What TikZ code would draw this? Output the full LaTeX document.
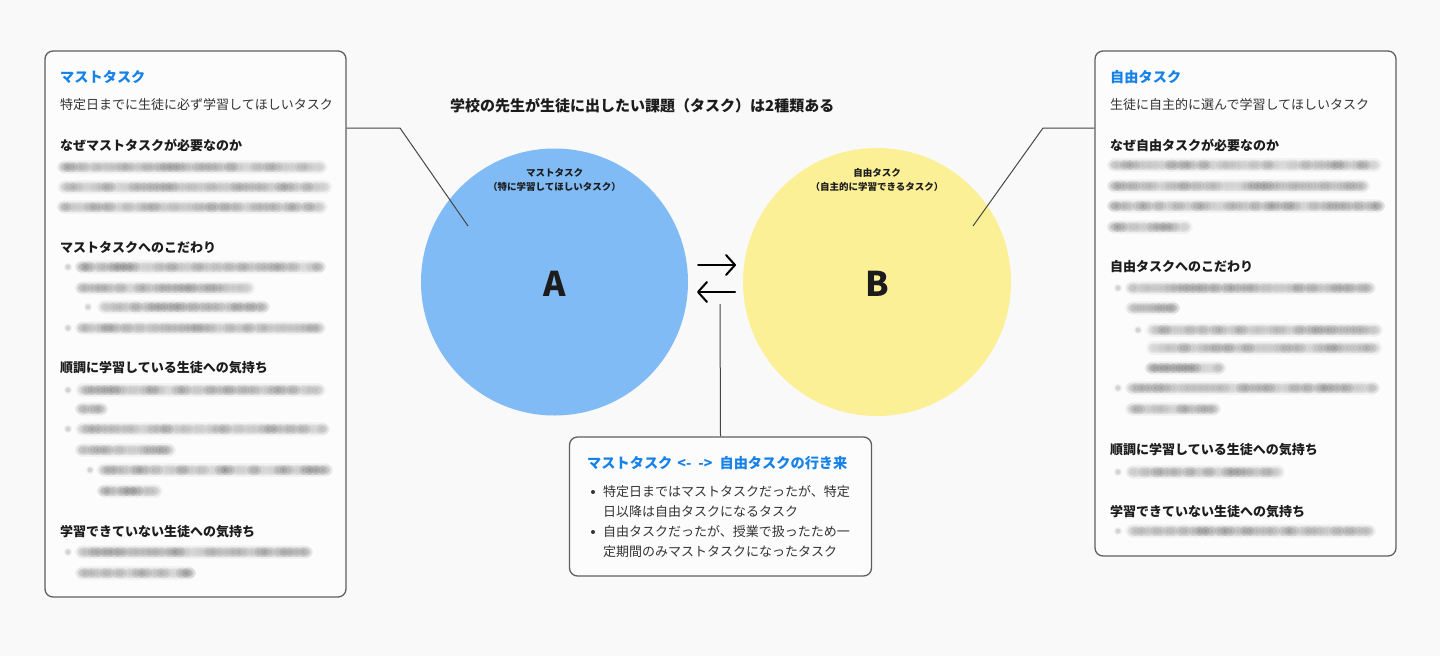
\documentclass[tikz,border=0pt]{standalone}
\usepackage{fontspec}
\setmainfont{Noto Sans CJK JP}
\usetikzlibrary{arrows.meta,calc}
\definecolor{bg}{RGB}{249,249,249}
\definecolor{boxfill}{RGB}{252,252,252}
\definecolor{boxline}{RGB}{95,95,95}
\definecolor{leadc}{RGB}{70,70,70}
\definecolor{tblue}{RGB}{22,130,232}
\definecolor{circA}{RGB}{128,187,246}
\definecolor{circB}{RGB}{252,240,150}
\definecolor{txt}{RGB}{51,51,51}
\definecolor{hd}{RGB}{28,28,28}
\newcommand\blurln[3]{%
  \fill[black,fill opacity=0.04,rounded corners=6pt] (#1-1,#3-7) rectangle (#2+1,#3+7);
  \fill[black,fill opacity=0.06,rounded corners=4pt] (#1+1,#3-4.5) rectangle (#2-1,#3+4.5);
  \pgfmathtruncatemacro\bln{max(2,round((#2-#1)/6.5))}
  \pgfmathsetmacro\bls{(#2-#1-8)/(\bln-1)}
  \pgfmathtruncatemacro\blm{\bln-1}
  \foreach \bi in {0,...,\blm}{%
    \pgfmathsetmacro\bxx{#1+4+\bi*\bls}
    \pgfmathsetmacro\bop{0.01+0.09*rnd}
    \fill[black,fill opacity=\bop] (\bxx,#3) ellipse [x radius=7pt, y radius=5.5pt];
    \fill[black,fill opacity=\bop] (\bxx,#3) ellipse [x radius=4.5pt, y radius=3.2pt];
  }
}
\newcommand\blurdot[2]{%
  \fill[black,fill opacity=0.06] (#1,#2) circle (4pt);
  \fill[black,fill opacity=0.10] (#1,#2) circle (2.5pt);
}
\tikzset{
  box/.style={draw=boxline, line width=1.3pt, fill=boxfill, rounded corners=8pt, inner sep=0pt},
  ttl/.style={anchor=west, inner sep=0pt, text=tblue, font=\bfseries\fontsize{14.2}{16}\selectfont},
  body/.style={anchor=west, inner sep=0pt, text=txt, font=\fontsize{13}{15}\selectfont},
  hdg/.style={anchor=west, inner sep=0pt, text=hd, font=\bfseries\fontsize{13}{15}\selectfont},
  clab/.style={inner sep=0pt, align=center, text=hd, font=\bfseries\fontsize{9.5}{14}\selectfont},
  big/.style={inner sep=0pt, text=hd, font=\bfseries\fontsize{34}{34}\selectfont},
  lead/.style={draw=leadc, line width=1pt},
  arr/.style={draw=black, line width=2pt, line cap=round, -{Straight Barb[length=9pt,width=20pt,round]}},
  bdot/.style={fill=txt},
}
\begin{document}
\begin{tikzpicture}[x=1pt,y=-1pt]
\pgfmathsetseed{11}
\fill[bg] (0,0) rectangle (1440,656);
\useasboundingbox (0,0) rectangle (1440,656);

% boxes
\node[box, minimum width=301pt, minimum height=546pt] (lbox) at (195.5,324) {};
\node[box, minimum width=301pt, minimum height=505pt] (rbox) at (1245.5,303.5) {};
\node[box, minimum width=302pt, minimum height=139pt] (cbox) at (720.5,506.5) {};

% circles
\node[circle, fill=circA, minimum size=267pt, inner sep=0pt] (A) at (554.5,282) {};
\node[circle, fill=circB, minimum size=268pt, inner sep=0pt] (B) at (877,282) {};

% title
\node[anchor=west, inner sep=0pt, text=hd, font=\bfseries\fontsize{15}{17}\selectfont] (title) at (450,106) {学校の先生が生徒に出したい課題（タスク）は2種類ある};

% circle labels
\node[clab] (Acap) at (554.5,180) {マストタスク\\（特に学習してほしいタスク）};
\node[clab] (Bcap) at (877,180) {自由タスク\\（自主的に学習できるタスク）};
\node[big] (Alab) at (554.5,284) {A};
\node[big] (Blab) at (877,284) {B};

% leader lines
\coordinate (lk) at (400,128);
\coordinate (la) at (468,226);
\draw[lead] (lbox.east |- lk) -- (lk) -- (la);
\coordinate (rk) at (1043,128);
\coordinate (rb) at (973,226);
\draw[lead] (rbox.west |- rk) -- (rk) -- (rb);

% arrows between A and B
\coordinate (r1) at (698,265);
\coordinate (r2) at (736,265);
\draw[arr] (r1) -- (r2);
\coordinate (l1) at (735,292);
\coordinate (l2) at (697,292);
\draw[arr] (l1) -- (l2);
\coordinate (vt) at (720,304);
\draw[lead] (vt) -- (cbox.north);

% left box content
\node[ttl] (lt) at (60,77) {マストタスク};
\node[body] (ld) at (60,105) {特定日までに生徒に必ず学習してほしいタスク};
\node[hdg] (lh1) at (60,145) {なぜマストタスクが必要なのか};
\blurln{60}{325}{167}
\blurln{60}{330}{187}
\blurln{60}{325}{207}
\node[hdg] (lh2) at (60,247) {マストタスクへのこだわり};
\blurdot{68}{267}\blurln{78}{323}{267}
\blurln{78}{253}{288}
\blurdot{88}{307}\blurln{100}{267}{307}
\blurdot{68}{328}\blurln{78}{323}{328}
\node[hdg] (lh3) at (60,368) {順調に学習している生徒への気持ち};
\blurdot{68}{390}\blurln{78}{323}{390}
\blurln{78}{105}{409}
\blurdot{68}{429}\blurln{78}{327}{429}
\blurln{78}{173}{450}
\blurdot{90}{470}\blurln{100}{330}{470}
\blurln{100}{160}{491}
\node[hdg] (lh4) at (60,532) {学習できていない生徒への気持ち};
\blurdot{68}{552}\blurln{78}{310}{552}
\blurln{78}{193}{573}

% right box content
\node[ttl] (rt) at (1110,77) {自由タスク};
\node[body] (rd) at (1110,105) {生徒に自主的に選んで学習してほしいタスク};
\node[hdg] (rh1) at (1110,145) {なぜ自由タスクが必要なのか};
\blurln{1110}{1380}{165}
\blurln{1110}{1367}{186}
\blurln{1110}{1382}{206}
\blurln{1110}{1190}{227}
\node[hdg] (rh2) at (1110,267) {自由タスクへのこだわり};
\blurdot{1118}{288}\blurln{1128}{1373}{288}
\blurln{1128}{1177}{308}
\blurdot{1138}{330}\blurln{1148}{1380}{330}
\blurln{1148}{1380}{348}
\blurln{1148}{1223}{368}
\blurdot{1118}{388}\blurln{1128}{1377}{388}
\blurln{1128}{1218}{409}
\node[hdg] (rh3) at (1110,450) {順調に学習している生徒への気持ち};
\blurdot{1118}{472}\blurln{1128}{1283}{472}
\node[hdg] (rh4) at (1110,512) {学習できていない生徒への気持ち};
\blurdot{1118}{531}\blurln{1128}{1373}{531}

% center box content
\node[ttl] (ct) at (587,463) {マストタスク\hspace{5pt}<-\hspace{7pt}->\hspace{7pt}自由タスクの行き来};
\fill[bdot] (593,492) circle (2pt);
\node[body] (c1) at (603,492) {特定日まではマストタスクだったが、特定};
\node[body] (c2) at (603,512) {日以降は自由タスクになるタスク};
\fill[bdot] (593,532) circle (2pt);
\node[body] (c3) at (603,532) {自由タスクだったが、授業で扱ったため一};
\node[body] (c4) at (603,552) {定期間のみマストタスクになったタスク};
\end{tikzpicture}
\end{document}
